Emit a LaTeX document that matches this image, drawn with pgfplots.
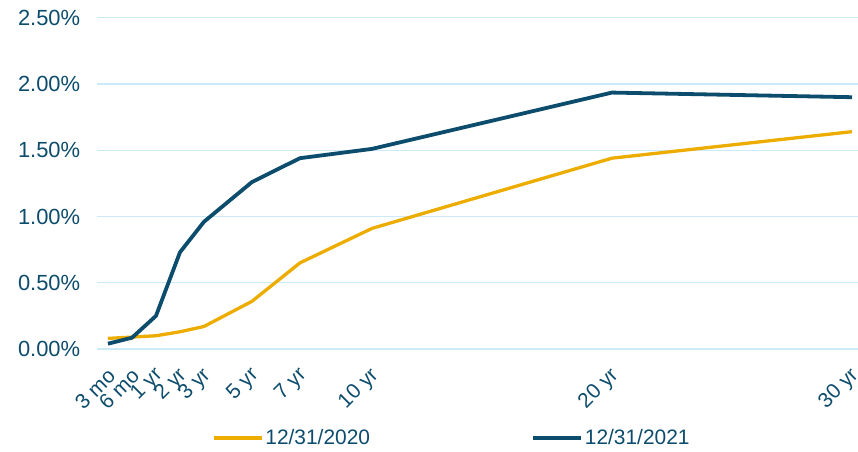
\documentclass[border=0pt]{standalone}
\usepackage{pgfplots}
\pgfplotsset{compat=1.18}
\usepackage{fontspec}
\setmainfont{Liberation Sans}
\definecolor{navy}{RGB}{12,76,108}
\definecolor{gold}{RGB}{237,173,0}
\definecolor{gridblue}{RGB}{204,235,250}

\begin{document}
\begin{tikzpicture}
\path[use as bounding box] (-96.7bp,-103bp) rectangle (761.3bp,349bp);
\begin{axis}[
  name=ax,
  at={(0,0)}, anchor=south west,
  scale only axis,
  width=761.3bp, height=331.3bp,
  xmin=-0.47, xmax=31.25,
  ymin=0, ymax=2.5,
  ytick={0,0.5,1,1.5,2,2.5},
  xtick={0,1,2,3,4,6,8,11,21,31},
  xticklabels={3 mo,6 mo,1 yr,2 yr,3 yr,5 yr,7 yr,10 yr,20 yr,30 yr},
  ymajorgrids,
  grid style={gridblue, line width=1.3bp},
  axis line style={draw=none},
  major tick length=0pt,
  clip=false,
  /pgf/number format/assume math mode=true,
  tick label style={font=\fontsize{21}{24}\selectfont, text=navy},
  yticklabel={\pgfmathprintnumber[fixed,fixed zerofill,precision=2]{\tick}\%},
  yticklabel style={anchor=east, xshift=-13bp, font=\fontsize{22}{25}\selectfont},
  xticklabel style={xshift=6bp, yshift=-21bp, rotate=45, anchor=east},
  legend columns=2,
  legend style={draw=none, fill=none, at={(0.4665,-0.2686)}, anchor=center,
    font=\fontsize{21}{24}\selectfont, text=navy,
    /tikz/every even column/.append style={column sep=159bp},
    nodes={inner sep=2bp}},
  legend cell align=left,
  legend image code/.code={\draw[#1] (0bp,0bp) -- (48bp,0bp);},
]
\addplot[gold, line width=3.3bp, line join=round] coordinates {
  (0,0.08) (1,0.09) (2,0.10) (3,0.13) (4,0.17) (6,0.36) (8,0.65) (11,0.91) (21,1.44) (31,1.64)
};
\addlegendentry{12/31/2020}
\addplot[navy, line width=3.8bp, line join=round] coordinates {
  (0,0.04) (1,0.085) (2,0.25) (3,0.73) (4,0.96) (6,1.26) (8,1.44) (11,1.51) (21,1.935) (31,1.90)
};
\addlegendentry{12/31/2021}
\end{axis}
\end{tikzpicture}
\end{document}
